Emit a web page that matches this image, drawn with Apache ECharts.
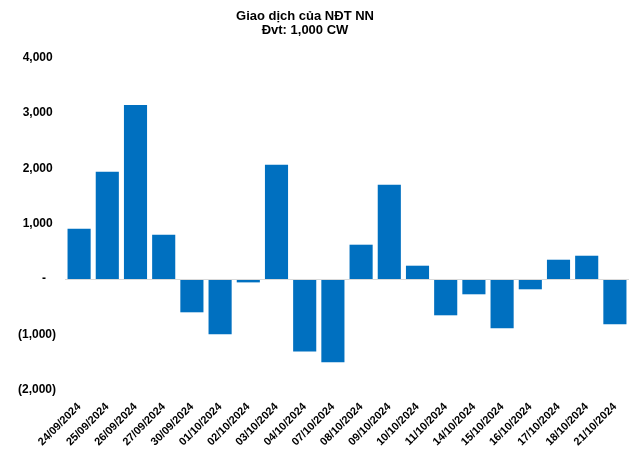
<!DOCTYPE html>
<html>
<head>
<meta charset="utf-8">
<script src="https://cdn.jsdelivr.net/npm/echarts@6/dist/echarts.min.js"></script>
<style>html,body{margin:0;padding:0;background:#fff}#c{width:640px;height:453px}</style>
</head>
<body>
<div id="c"></div>
<script>
var categories = ["24/09/2024","25/09/2024","26/09/2024","27/09/2024","30/09/2024","01/10/2024","02/10/2024","03/10/2024","04/10/2024","07/10/2024","08/10/2024","09/10/2024","10/10/2024","11/10/2024","14/10/2024","15/10/2024","16/10/2024","17/10/2024","18/10/2024","21/10/2024"];
var values = [910, 1937, 3144, 802, -598, -994, -58, 2063, -1306, -1498, 622, 1703, 243, -652, -273, -886, -183, 351, 423, -814];
var yTicks = [-2000, -1000, 0, 1000, 2000, 3000, 4000];

function fmt(v) {
  if (v === 0) return "-   ";
  var s = Math.abs(v).toLocaleString("en-US");
  return v < 0 ? "(" + s + ")" : s + " ";
}

var chart = echarts.init(document.getElementById("c"), null, {renderer: "canvas"});
chart.setOption({
  animation: false,
  textStyle: {fontFamily: "Liberation Sans, Arial, sans-serif"},
  title: {
    text: "Giao dịch của NĐT NN\nĐvt: 1,000 CW",
    left: 300, top: 4, textAlign: "center",
    textStyle: {fontSize: 13, fontWeight: "bold", color: "#000", lineHeight: 14, fontFamily: "Liberation Sans, Arial, sans-serif"}
  },
  grid: {left: 65, right: 11, top: 57.5, bottom: 63, containLabel: false},
  xAxis: {
    type: "category",
    data: categories,
    axisLine: {show: false, onZero: false},
    axisTick: {show: false},
    axisLabel: {rotate: 45, interval: 0, margin: 15, fontSize: 11, fontWeight: "bold", color: "#000"}
  },
  yAxis: {
    type: "value",
    min: yTicks[0], max: yTicks[yTicks.length - 1], interval: 1000,
    splitLine: {show: false},
    axisLine: {show: false},
    axisTick: {show: false},
    axisLabel: {fontSize: 12, fontWeight: "bold", color: "#000", margin: 9, formatter: fmt}
  },
  series: [{
    type: "bar",
    data: values,
    barCategoryGap: "18%",
    itemStyle: {color: "#0070C0"},
    markLine: {
      silent: true, symbol: "none", label: {show: false},
      lineStyle: {color: "#d9d9d9", width: 1, type: "solid"},
      data: [{yAxis: 0}]
    }
  }]
});
</script>
</body>
</html>
